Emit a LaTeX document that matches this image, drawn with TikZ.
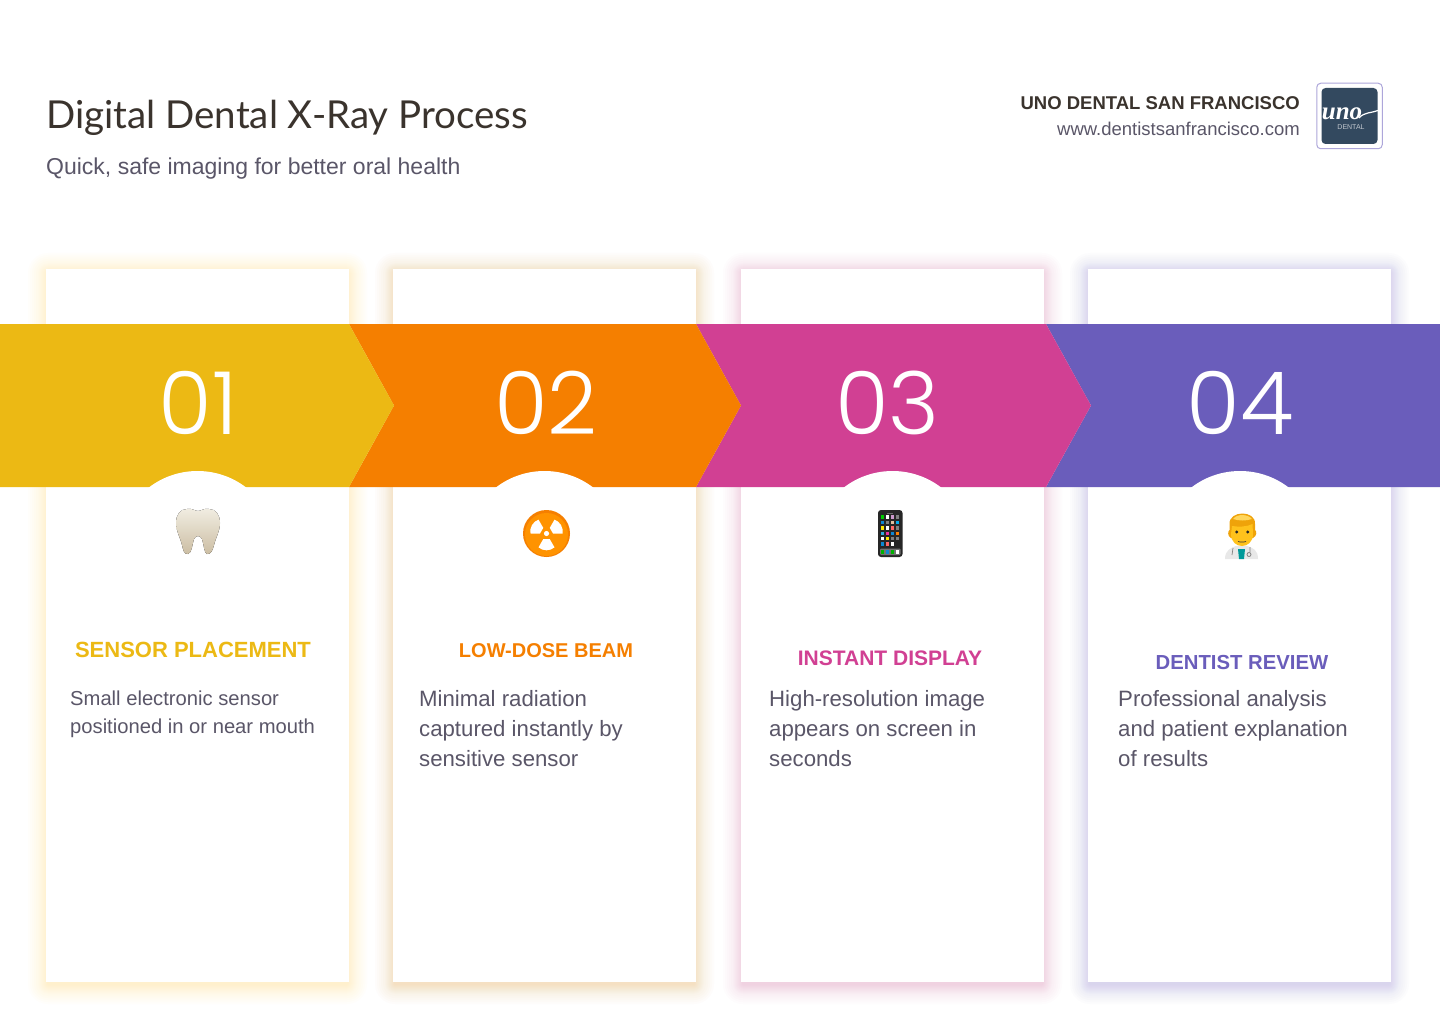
\documentclass[tikz,border=0pt]{standalone}
\usepackage{fontspec}
\setmainfont{Liberation Sans}
\newfontfamily\titlefont{Lato}
\newfontfamily\numfont{Poppins Light}
\newfontfamily\unofont{Liberation Serif}
\usetikzlibrary{positioning}
\usetikzlibrary{calc}
\definecolor{cyellow}{HTML}{ECB914}
\definecolor{corange}{HTML}{F57F00}
\definecolor{cpink}{HTML}{D14093}
\definecolor{cpurple}{HTML}{6A5DBB}
\definecolor{cdark}{HTML}{3A332D}
\definecolor{cgrey}{HTML}{5A5668}
\definecolor{clogo}{HTML}{33495F}
\definecolor{gyellow}{HTML}{FFC22E}
\newcommand{\fsize}[1]{\fontsize{#1}{#1}\selectfont}
\tikzset{
    card/.style={
    fill=white,
    minimum width=303pt,
    minimum height=713pt,
    inner sep=0pt
    },
    hump/.style={
    circle,
    fill=white,
    minimum size=160pt,
    inner sep=0pt
    },
    num/.style={
    text=white,
    anchor=base,
    font=\numfont\fsize{87}
    },
    steptitle/.style={
    anchor=base,
    inner sep=0pt,
    font=\bfseries\fsize{21}
    },
    stepdesc/.style={
    anchor=base west,
    inner sep=0pt,
    text=cgrey,
    font=\fsize{22.2}
    }
}

\begin{document}
\begin{tikzpicture}[x=1pt,y=-1pt]
\useasboundingbox (0,0) rectangle (1440,1024);
\fill[white] (0,0) rectangle (1440,1024);

% cards with their glow
\foreach \cx/\col in {197.5/gyellow,544.5/corange,892.5/cpink,1239.5/cpurple}{
  \foreach \w in {1,2,3,4,5,6,7,8,9,10,12,14,16,18,20}{
    \fill[\col,opacity=0.014,rounded corners=\w pt]
      (\cx-151.5-\w+2,269-\w+4) rectangle (\cx+151.5+\w-2,982+\w+2);
  }
}
\node [card](card1) at (197.5,625.5) {};
\node [card](card2) at (544.5,625.5) {};
\node [card](card3) at (892.5,625.5) {};
\node [card](card4) at (1239.5,625.5) {};

% band
\fill[cpurple] (1046,324) -- (1440,324) -- (1440,487) -- (1046,487) -- (1091,405.5) -- cycle;
\fill[cpink] (696,324) -- (1046,324) -- (1091,405.5) -- (1046,487) -- (696,487) -- (741,405.5) -- cycle;
\fill[corange] (349,324) -- (696,324) -- (741,405.5) -- (696,487) -- (349,487) -- (394,405.5) -- cycle;
\fill[cyellow] (0,324) -- (349,324) -- (394,405.5) -- (349,487) -- (0,487) -- cycle;

\node [hump](hump1) at (197.5,551) {};
\node [hump](hump2) at (544.5,551) {};
\node [hump](hump3) at (892.5,551) {};
\node [hump](hump4) at (1240,551) {};

\node [num](n1) at (198,434.5) {01};
\node [num](n2) at (546,434.5) {02};
\node [num](n3) at (887.5,434.5) {03};
\node [num](n4) at (1240,434.5) {04};

% header
\node [anchor=base west,inner sep=0pt,text=cdark,font=\titlefont\fsize{38.5}](title) at (46,129) {Digital Dental X-Ray Process};
\node [anchor=base west,inner sep=0pt,text=cgrey,font=\fsize{23}](subtitle) at (46,174.5) {Quick, safe imaging for better oral health};
\node [anchor=base east,inner sep=0pt,text=cdark,font=\bfseries\fsize{18.5}](brand) at (1300,110) {UNO DENTAL SAN FRANCISCO};
\node [anchor=base east,inner sep=0pt,text=cgrey,font=\fsize{18.5}](site) at (1300,136) {www.dentistsanfrancisco.com};

% logo
\node [draw=cpurple!55,line width=1pt,fill=white,rounded corners=4pt,minimum size=65.5pt,inner sep=0pt](logo) at (1349.5,116) {};
\node [fill=clogo,rounded corners=4pt,minimum size=56pt,inner sep=0pt](logoin) at (logo) {};
\node [anchor=base,inner sep=0pt,text=white,font=\unofont\bfseries\itshape\fsize{25}](uno) at (1342,120) {uno};
\node [anchor=base,inner sep=0pt,text=white!70!clogo,font=\fsize{7}](dental) at (1351,129.5) {DENTAL};
\draw[white,line width=1.2pt] (1359,118) .. controls (1364,112) and (1372,113) .. (1378,110.5);

% step texts
\node [steptitle,text=cyellow,font=\bfseries\fsize{22}](t1) at (193,657) {SENSOR PLACEMENT};
\node [steptitle,text=corange,font=\bfseries\fsize{20}](t2) at (546,657) {LOW-DOSE BEAM};
\node [steptitle,text=cpink](t3) at (890,665) {INSTANT DISPLAY};
\node [steptitle,text=cpurple,font=\bfseries\fsize{20.3}](t4) at (1242,669) {DENTIST REVIEW};

\node [stepdesc,font=\fsize{20.2}](d11) at (70,705) {Small electronic sensor};
\node [stepdesc,font=\fsize{20.2}](d12) at (70,733) {positioned in or near mouth};

\node [stepdesc](d21) at (419,706) {Minimal radiation};
\node [stepdesc](d22) at (419,736) {captured instantly by};
\node [stepdesc](d23) at (419,766) {sensitive sensor};

\node [stepdesc](d31) at (769,706) {High-resolution image};
\node [stepdesc](d32) at (769,736) {appears on screen in};
\node [stepdesc](d33) at (769,766) {seconds};

\node [stepdesc](d41) at (1118,706) {Professional analysis};
\node [stepdesc](d42) at (1118,736) {and patient explanation};
\node [stepdesc](d43) at (1118,766) {of results};

% tooth
\definecolor{toothtop}{HTML}{F1EDE2}
\definecolor{toothlow}{HTML}{CBBDA2}
\fill[top color=toothtop,bottom color=toothlow]
  (187,509) .. controls (192,508) and (195,511) .. (198,511)
  .. controls (201,511) and (204,508) .. (209,509)
  .. controls (216,509) and (220,515) .. (220,523)
  .. controls (220,531) and (216,537) .. (214,545)
  .. controls (213,549) and (211,555) .. (207,554)
  .. controls (204,553) and (204,545) .. (202,539)
  .. controls (200,535) and (196,535) .. (194,539)
  .. controls (192,545) and (192,553) .. (188,554)
  .. controls (184,555) and (183,549) .. (182,545)
  .. controls (180,537) and (176,531) .. (176,523)
  .. controls (176,515) and (180,509) .. (187,509) -- cycle;

% radiation sign
\fill[corange] (546.5,533.5) circle (23.5);
\fill[orange!85!yellow] (546.5,534.5) circle (21.5);
\fill[white] (546.5,533.5) circle (2.6);
\foreach \a in {90,210,330}{
  \fill[white] ($(546.5,533.5)+(\a-30:6.5)$) -- ($(546.5,533.5)+(\a-30:16)$)
    -- ($(546.5,533.5)+(\a-15:16.6)$) -- ($(546.5,533.5)+(\a:16.8)$) -- ($(546.5,533.5)+(\a+15:16.6)$)
    -- ($(546.5,533.5)+(\a+30:16)$) -- ($(546.5,533.5)+(\a+30:6.5)$) -- cycle;
}

% phone
\fill[black!85,rounded corners=3pt] (878,510) rectangle (902.5,557);
\draw[black!60,line width=0.5pt] (887,513.5) -- (893,513.5);
\foreach \cols [count=\r] in {{green!80!black,white,violet!40!white,gray},{cyan!70!blue,gray,brown!50!white,cyan},{yellow!90!orange,white,red!60!white,gray},{cyan!80!gray,magenta!80!white,cyan!70!blue,orange},{white,yellow!90!orange,gray,gray},{cyan!70!blue,red!60!white,white,black!85}}{
  \foreach \c [count=\k] in \cols {
    \fill[\c] (877.6+5*\k-1.7,511.6+5.4*\r-1.7) rectangle ++(3.4,3.4);
  }
}
\fill[black!55,rounded corners=1pt] (880,548.5) rectangle (900.5,555);
\foreach \c [count=\k] in {green!70!black,cyan!70!blue,green!70!black,white}{
  \fill[\c] (877.6+5*\k-1.7,550) rectangle ++(3.4,3.6);
}

% doctor
\definecolor{docface}{HTML}{FFC21C}
\definecolor{dochair}{HTML}{EFA30A}
\definecolor{doclight}{HTML}{FFD65C}
\fill[black!9] (1225,559) .. controls (1225,550) and (1231,548) .. (1236,546) -- (1247,546)
  .. controls (1253,548) and (1258,550) .. (1258,559) -- cycle;
\fill[teal!80!cyan] (1238,549) -- (1245,549) -- (1244,559) -- (1239,559) -- cycle;
\draw[gray,line width=0.7pt] (1233,548) -- (1232,555) (1250,547) -- (1250,552);
\draw[gray,line width=0.8pt] (1249,554.5) circle (2);
\fill[dochair] (1231,538) .. controls (1227,536) and (1228,531) .. (1229.5,530)
  -- (1229.5,524) .. controls (1229,510) and (1256,510) .. (1255,524) -- (1255,530)
  .. controls (1257,531) and (1257,536) .. (1253,538) -- cycle;
\fill[docface] (1232,526) .. controls (1238,527) and (1247,527) .. (1252.5,524) -- (1253,534)
  .. controls (1253,550) and (1231,550) .. (1231,534) -- cycle;
\fill[doclight] (1233,519) .. controls (1237,513.5) and (1248,514) .. (1252,519) .. controls (1246,521) and (1239,521) .. (1233,519) -- cycle;
\fill[black!85] (1236.7,532) circle (1.6) (1247.7,532) circle (1.6);
\draw[black!80,line width=0.7pt] (1238,541.5) .. controls (1240,542.3) and (1244,542.3) .. (1246,541.5);
\end{tikzpicture}
\end{document}
